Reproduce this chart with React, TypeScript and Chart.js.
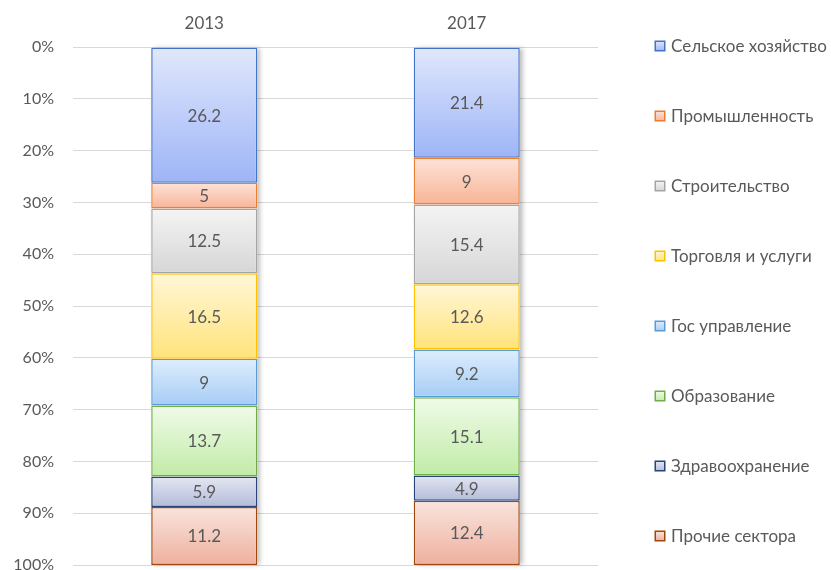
import React, { useEffect, useRef } from "react";
import { Chart, registerables } from "chart.js";

Chart.register(...registerables);

const categories = ["2013", "2017"];
const sectorNames = [
  "Сельское хозяйство",
  "Промышленность",
  "Строительство",
  "Торговля и услуги",
  "Гос управление",
  "Образование",
  "Здравоохранение",
  "Прочие сектора",
];
const agriculture = [26.2, 21.4];
const industry = [5, 9];
const construction = [12.5, 15.4];
const trade = [16.5, 12.6];
const government = [9, 9.2];
const education = [13.7, 15.1];
const health = [5.9, 4.9];
const other = [11.2, 12.4];
const series = [agriculture, industry, construction, trade, government, education, health, other];

const palette = [
  { light: "#e1e8fc", dark: "#9db4f7", border: "#4472c4" },
  { light: "#fde3d8", dark: "#f8b497", border: "#ed7d31" },
  { light: "#f4f4f4", dark: "#d6d6d6", border: "#a5a5a5" },
  { light: "#fff7d8", dark: "#ffe37a", border: "#ffc000" },
  { light: "#deedfd", dark: "#a6cdf4", border: "#5b9bd5" },
  { light: "#f0fbe9", dark: "#c1eba6", border: "#70ad47" },
  { light: "#e4e7f2", dark: "#b3bbd8", border: "#264478" },
  { light: "#f9e4dd", dark: "#eeb09e", border: "#9e480e" },
];

const FONT = "Lato, 'Open Sans', sans-serif";
const TEXT = "#595959";

export default function App() {
  const ref = useRef<HTMLCanvasElement | null>(null);

  useEffect(() => {
    const canvas = ref.current;
    if (!canvas) return;

    const gradientFor = (ctx: any) => {
      const d = ctx.datasetIndex;
      const st = palette[d];
      const chart = ctx.chart;
      const y = chart.scales && chart.scales.y;
      if (ctx.type !== "data" || !y || !chart.chartArea) return st.dark;
      const i = ctx.dataIndex;
      let start = 0;
      for (let k = 0; k < d; k++) start += series[k][i];
      const end = start + series[d][i];
      const y0 = y.getPixelForValue(start);
      const y1 = y.getPixelForValue(end);
      if (!isFinite(y0) || !isFinite(y1) || y0 === y1) return st.dark;
      const g = chart.ctx.createLinearGradient(0, Math.min(y0, y1), 0, Math.max(y0, y1));
      g.addColorStop(0, st.light);
      g.addColorStop(1, st.dark);
      return g;
    };

    const shadowPlugin = {
      id: "barShadow",
      beforeDatasetsDraw(chart: any) {
        const c = chart.ctx;
        const first = chart.getDatasetMeta(0);
        const last = chart.getDatasetMeta(series.length - 1);
        c.save();
        c.shadowColor = "rgba(0,0,0,0.28)";
        c.shadowBlur = 5;
        c.shadowOffsetX = 3;
        c.shadowOffsetY = 0;
        c.fillStyle = "#ffffff";
        first.data.forEach((el: any, i: number) => {
          const p = el.getProps(["x", "width", "base"], true);
          const lp = last.data[i].getProps(["y"], true);
          const top = Math.min(p.base, lp.y);
          const bottom = Math.max(p.base, lp.y);
          c.fillRect(p.x - p.width / 2, top, p.width, bottom - top);
        });
        c.restore();
      },
    };

    const labelPlugin = {
      id: "segLabels",
      afterDatasetsDraw(chart: any) {
        const c = chart.ctx;
        c.save();
        c.font = `17px ${FONT}`;
        c.fillStyle = TEXT;
        c.textAlign = "center";
        c.textBaseline = "middle";
        chart.data.datasets.forEach((ds: any, d: number) => {
          const meta = chart.getDatasetMeta(d);
          meta.data.forEach((el: any, i: number) => {
            const p = el.getProps(["x", "y", "base"], true);
            c.fillText(String(ds.data[i]), p.x, (p.y + p.base) / 2 + 1);
          });
        });
        c.restore();
      },
    };

    const legendPlugin = {
      id: "sideLegend",
      afterDraw(chart: any) {
        const c = chart.ctx;
        const area = chart.chartArea;
        const x0 = area.right + 57;
        const step = 70;
        const yStart = area.top - 1;
        c.save();
        c.font = `17px ${FONT}`;
        c.textBaseline = "middle";
        c.textAlign = "left";
        sectorNames.forEach((name, k) => {
          const st = palette[k];
          const yc = yStart + k * step;
          const g = c.createLinearGradient(0, yc - 5, 0, yc + 5);
          g.addColorStop(0, st.light);
          g.addColorStop(1, st.dark);
          c.fillStyle = g;
          c.fillRect(x0, yc - 5, 10, 10);
          c.strokeStyle = st.border;
          c.lineWidth = 1.5;
          c.strokeRect(x0 + 0.25, yc - 4.75, 9.5, 9.5);
          c.fillStyle = TEXT;
          c.fillText(name, x0 + 16, yc + 1);
        });
        c.restore();
      },
    };

    const chart = new Chart(canvas, {
      type: "bar",
      data: {
        labels: categories,
        datasets: series.map((values, k) => ({
          label: sectorNames[k],
          data: values,
          backgroundColor: gradientFor,
          borderColor: palette[k].border,
          borderWidth: 1.5,
          borderSkipped: false,
          barPercentage: 0.404,
          categoryPercentage: 1,
        })),
      },
      options: {
        responsive: false,
        animation: false,
        devicePixelRatio: 1,
        layout: { padding: { top: 0, right: 233, bottom: 0, left: 0 } },
        plugins: {
          legend: { display: false },
          tooltip: { enabled: false },
        },
        scales: {
          x: {
            position: "top",
            stacked: true,
            grid: { display: false, drawTicks: false },
            border: { display: false },
            ticks: { color: TEXT, font: { family: FONT, size: 17 }, padding: 13 },
            afterFit: (s: any) => {
              s.height = 47;
            },
          },
          y: {
            stacked: true,
            reverse: true,
            min: 0,
            max: 100,
            grid: { color: "#d9d9d9", lineWidth: 1, drawTicks: false },
            border: { display: false },
            ticks: {
              stepSize: 10,
              color: TEXT,
              font: { family: FONT, size: 16 },
              padding: 19,
              callback: (v: any) => `${v}%`,
            },
            afterFit: (s: any) => {
              s.width = 73;
              s.paddingTop = 0;
              s.paddingBottom = 15;
            },
          },
        },
      },
      plugins: [shadowPlugin, labelPlugin, legendPlugin],
    });

    return () => chart.destroy();
  }, []);

  return (
    <div
      style={{
        position: "fixed",
        left: 0,
        top: 0,
        width: 831,
        height: 570,
        overflow: "hidden",
        background: "#ffffff",
      }}
    >
      <canvas ref={ref} width={831} height={580} style={{ display: "block" }} />
    </div>
  );
}
